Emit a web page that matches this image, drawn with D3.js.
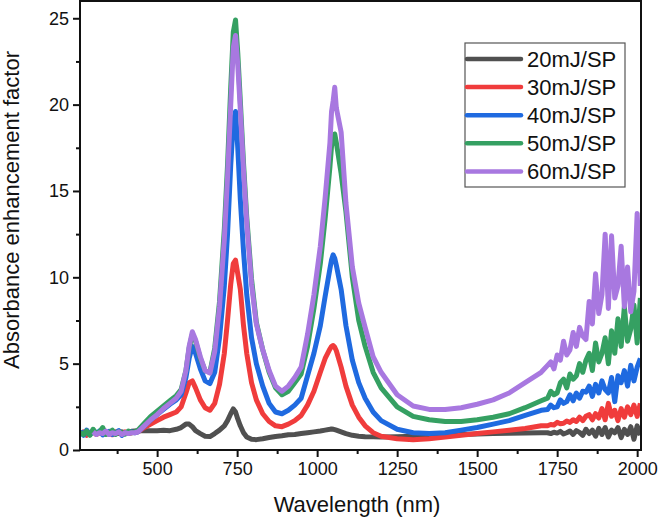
<!DOCTYPE html>
<html>
<head>
<meta charset="utf-8">
<script src="https://cdn.jsdelivr.net/npm/d3@7"></script>
<style>
  body { margin: 0; background: #fff; }
  text { font-family: "Liberation Sans", Arial, sans-serif; fill: #111; }
</style>
</head>
<body>
<div id="graph"></div>
<script>
const width = 661;
const height = 520;
const margin = {top: 1, right: 20, bottom: 70, left: 80};

// wavelength (nm) shared by all series
const wavelengths = [
  260, 270, 280, 290, 300, 310, 320, 330, 340, 350, 360, 370, 380, 390, 400, 410, 420, 430,
  440, 460, 480, 500, 520, 540, 560, 575, 590, 600,
  610, 620, 635, 650, 665, 680, 695, 710, 720, 730,
  738, 745, 752, 760, 770, 780, 795, 810, 830, 850,
  870, 890, 910, 930, 950, 970, 990, 1010, 1025, 1040,
  1045, 1050, 1055, 1060, 1075, 1090, 1110, 1130, 1150, 1175,
  1200, 1250, 1300, 1350, 1400, 1450, 1500, 1550, 1600, 1650,
  1700,
  1720, 1730, 1740, 1750, 1760, 1770, 1780, 1790, 1800, 1810,
  1820, 1830, 1840, 1850, 1860, 1870, 1880, 1890, 1900, 1910,
  1920, 1930, 1940, 1950, 1960, 1970, 1980, 1990, 2000, 2010
];

const s20 = [
  1.0, 0.95, 1.05, 0.98, 1.02, 0.95, 1.05, 1.0, 0.97, 1.04, 0.98, 1.02, 0.96, 1.05, 1.0, 1.03, 1.08, 1.1,
  1.12, 1.12, 1.12, 1.12, 1.14, 1.12, 1.2, 1.3, 1.5, 1.5,
  1.35, 1.12, 0.95, 0.8, 0.78, 0.95, 1.15, 1.4, 1.7, 2.1,
  2.38, 2.2, 1.8, 1.4, 1.0, 0.75, 0.62, 0.6, 0.65, 0.72,
  0.78, 0.82, 0.88, 0.9, 0.95, 1.0, 1.05, 1.1, 1.15, 1.2,
  1.22, 1.2, 1.18, 1.15, 1.05, 0.95, 0.85, 0.8, 0.77, 0.76,
  0.76, 0.77, 0.8, 0.83, 0.86, 0.9, 0.92, 0.95, 0.97, 0.98,
  1.0,
  1.0, 0.95, 1.03, 0.98, 1.08, 0.93, 1.0, 1.1, 0.9, 1.12,
  1.02, 0.85, 1.2, 0.95, 1.15, 0.8, 1.25, 0.9, 1.3, 0.75,
  1.15, 1.0, 1.3, 0.72, 1.2, 0.9, 1.35, 0.62, 1.4, 0.85
];

const s30 = [
  0.95, 1.05, 0.85, 1.0, 1.1, 0.9, 1.0, 1.12, 0.92, 1.0, 0.88, 1.05, 1.0, 0.9, 1.05, 0.95, 1.0, 1.02,
  1.05, 1.3, 1.5, 1.7, 1.9, 2.05, 2.2, 2.5, 3.3, 3.9,
  4.0, 3.6, 2.9, 2.45, 2.3, 2.7, 3.8, 5.6, 7.5, 9.6,
  10.8, 11.0, 10.2, 9.3, 7.2, 5.6, 3.9, 2.9, 2.1, 1.65,
  1.4, 1.35, 1.5, 1.7, 2.0, 2.6, 3.4, 4.5, 5.3, 5.85,
  6.0, 6.05, 5.95, 5.75, 4.8, 3.7, 2.6, 1.9, 1.4, 1.0,
  0.8, 0.65, 0.6, 0.65, 0.75, 0.85, 0.95, 1.05, 1.15, 1.25,
  1.4,
  1.4, 1.48, 1.45, 1.6, 1.52, 1.55, 1.68, 1.6, 1.75, 1.65,
  1.9, 1.7, 1.95, 2.05, 1.75, 2.1, 1.85, 2.4, 1.75, 2.7,
  1.95, 2.3, 1.7, 2.4, 1.9, 2.5, 2.05, 2.6, 1.95, 2.7
];

const s40 = [
  1.1, 0.85, 1.15, 0.9, 1.05, 0.95, 1.1, 0.88, 1.0, 1.08, 0.9, 1.0, 1.12, 0.85, 1.0, 0.95, 1.05, 1.0,
  1.05, 1.4, 1.75, 2.05, 2.35, 2.65, 2.9, 3.2, 4.2, 5.3,
  6.0, 5.6, 4.7, 4.0, 3.85, 4.5, 6.5, 9.5, 12.5, 16.5,
  19.0, 19.6, 17.5, 14.5, 11.5, 9.0, 6.5, 5.0, 3.7, 2.7,
  2.2, 2.1, 2.3, 2.6, 3.0, 4.3, 5.6, 7.2, 8.9, 10.5,
  11.0, 11.3, 11.1, 10.7, 9.3, 7.2, 5.2, 3.9, 3.0, 2.2,
  1.7, 1.2, 1.0, 0.95, 1.0, 1.15, 1.3, 1.5, 1.7, 2.0,
  2.3,
  2.35, 2.6, 2.45, 2.5, 2.9, 2.7, 2.8, 3.2, 2.85, 3.3,
  3.0, 3.4, 3.35, 3.7, 3.1, 3.8, 3.3, 4.0, 3.5, 3.3,
  4.2, 2.8, 4.3, 3.9, 4.6, 3.7, 4.9, 4.0, 4.8, 5.3
];

const s50 = [
  1.0, 0.9, 1.1, 0.85, 1.2, 0.95, 1.05, 1.3, 0.9, 1.0, 1.15, 0.9, 1.05, 1.0, 0.92, 1.1, 1.0, 1.05,
  1.15, 1.55, 1.95, 2.25, 2.55, 2.85, 3.15, 3.5, 4.6, 5.9,
  6.7, 6.3, 5.3, 4.6, 4.5, 5.9, 8.6, 12.8, 16.5, 21.0,
  24.2, 24.9, 23.0, 20.2, 16.6, 13.5, 9.9, 7.4, 5.8, 4.5,
  3.6, 3.2, 3.4, 3.9, 4.4, 6.0, 8.2, 10.8, 13.4, 16.4,
  17.6, 18.0, 18.3, 17.8, 16.0, 13.8, 10.0, 7.5, 6.0, 4.5,
  3.6, 2.5, 1.95, 1.75, 1.65, 1.65, 1.75, 1.9, 2.1, 2.45,
  2.85,
  3.0, 3.4, 3.2, 3.3, 3.9, 4.1, 3.6, 4.4, 4.1, 4.3,
  5.0, 4.5, 5.2, 5.6, 4.6, 6.2, 5.1, 5.6, 6.5, 5.0,
  6.9, 5.6, 7.6, 6.0, 8.3, 6.3, 7.0, 8.4, 6.2, 8.8
];

const s60 = [
  null, null, null, null, 1.05, 0.9, 1.0, 0.95, 1.1, 0.9, 1.0, 0.95, 1.05, 0.9, 1.0, 0.95, 1.0, 1.0,
  1.05, 1.4, 1.75, 2.05, 2.4, 2.7, 3.0, 3.4, 4.6, 6.0,
  6.85, 6.4, 5.4, 4.6, 4.45, 5.7, 8.3, 12.2, 15.8, 20.0,
  23.3, 24.0, 22.3, 19.7, 16.2, 13.2, 9.6, 7.3, 5.8, 4.6,
  3.7, 3.4, 3.7, 4.2, 4.8, 6.7, 9.0, 11.8, 14.6, 17.8,
  19.6, 20.2, 21.0, 19.8, 18.4, 14.3, 10.6, 8.5, 7.1, 5.4,
  4.5, 3.2, 2.55, 2.35, 2.35, 2.45, 2.65, 2.9, 3.3, 3.9,
  4.5,
  4.9, 5.1, 4.7, 5.5, 5.2, 6.3, 5.5, 5.8, 6.8, 6.0,
  7.1, 6.6, 6.4, 8.6, 7.3, 10.2, 7.9, 9.0, 12.5, 8.2,
  12.4, 8.8, 9.5, 11.8, 8.3, 10.6, 8.0, 9.2, 13.7, 9.5
];

const seriesNames = ["20mJ/SP", "30mJ/SP", "40mJ/SP", "50mJ/SP", "60mJ/SP"];
const seriesValues = [s20, s30, s40, s50, s60];
const colors = ["#505050", "#f03c3c", "#1f6ae0", "#35a062", "#a878e0"];

const xMajor = [500, 750, 1000, 1250, 1500, 1750, 2000];
const xMinor = [375, 625, 875, 1125, 1375, 1625, 1875];
const yMajor = [0, 5, 10, 15, 20, 25];
const yMinor = [2.5, 7.5, 12.5, 17.5, 22.5];

const svg = d3.select("#graph")
  .append("svg")
  .attr("width", width)
  .attr("height", height);

const x = d3.scaleLinear()
  .domain([259, 2012])
  .range([margin.left, width - margin.right]);

const y = d3.scaleLinear()
  .domain([0, 26])
  .range([height - margin.bottom, margin.top]);

svg.append("clipPath")
  .attr("id", "clip")
  .append("rect")
  .attr("x", margin.left)
  .attr("y", margin.top)
  .attr("width", x.range()[1] - margin.left)
  .attr("height", y.range()[0] - margin.top);

const line = d3.line()
  .defined(d => d.v != null)
  .x(d => x(d.w))
  .y(d => y(d.v));

const plot = svg.append("g").attr("clip-path", "url(#clip)");

seriesValues.forEach((vals, i) => {
  const data = wavelengths.map((w, j) => ({w: w, v: vals[j]}));
  plot.append("path")
    .datum(data)
    .attr("fill", "none")
    .attr("stroke", colors[i])
    .attr("stroke-width", 5)
    .attr("stroke-linejoin", "round")
    .attr("d", line);
});

// axes
svg.append("g")
  .attr("transform", `translate(0,${y(0)})`)
  .call(d3.axisBottom(x).tickValues(xMajor).tickSize(7).tickPadding(5).tickFormat(d3.format("d")));
svg.append("g")
  .attr("transform", `translate(0,${y(0)})`)
  .call(d3.axisBottom(x).tickValues(xMinor).tickSize(4).tickFormat(""));

svg.append("g")
  .attr("transform", `translate(${margin.left},0)`)
  .call(d3.axisLeft(y).tickValues(yMajor).tickSize(7).tickPadding(4));
svg.append("g")
  .attr("transform", `translate(${margin.left},0)`)
  .call(d3.axisLeft(y).tickValues(yMinor).tickSize(4).tickFormat(""));

svg.selectAll(".domain").remove();
svg.selectAll(".tick line").attr("stroke", "#111").attr("stroke-width", 2);
svg.selectAll(".tick text")
  .attr("font-size", 18)
  .attr("font-family", "Liberation Sans, Arial, sans-serif")
  .attr("fill", "#111");

// frame
svg.append("rect")
  .attr("x", margin.left)
  .attr("y", margin.top)
  .attr("width", x.range()[1] - margin.left)
  .attr("height", y.range()[0] - margin.top)
  .attr("fill", "none")
  .attr("stroke", "#111")
  .attr("stroke-width", 2);

// axis titles
svg.append("text")
  .attr("x", 357)
  .attr("y", 512)
  .attr("text-anchor", "middle")
  .attr("font-size", 22)
  .text("Wavelength (nm)");

svg.append("text")
  .attr("transform", "translate(19,210) rotate(-90)")
  .attr("text-anchor", "middle")
  .attr("font-size", 22)
  .text("Absorbance enhancement factor");

// legend
const legend = svg.append("g");
legend.append("rect")
  .attr("x", 465)
  .attr("y", 43)
  .attr("width", 160)
  .attr("height", 144)
  .attr("fill", "#fff")
  .attr("stroke", "#555")
  .attr("stroke-width", 1.2);

seriesNames.forEach((name, i) => {
  const ly = 59 + i * 28.1;
  legend.append("line")
    .attr("x1", 467).attr("x2", 521)
    .attr("y1", ly).attr("y2", ly)
    .attr("stroke", colors[i])
    .attr("stroke-width", 4.5)
    .attr("stroke-linecap", "round");
  legend.append("text")
    .attr("x", 527)
    .attr("y", ly)
    .attr("dy", "0.36em")
    .attr("font-size", 22)
    .text(name);
});
</script>
</body>
</html>
